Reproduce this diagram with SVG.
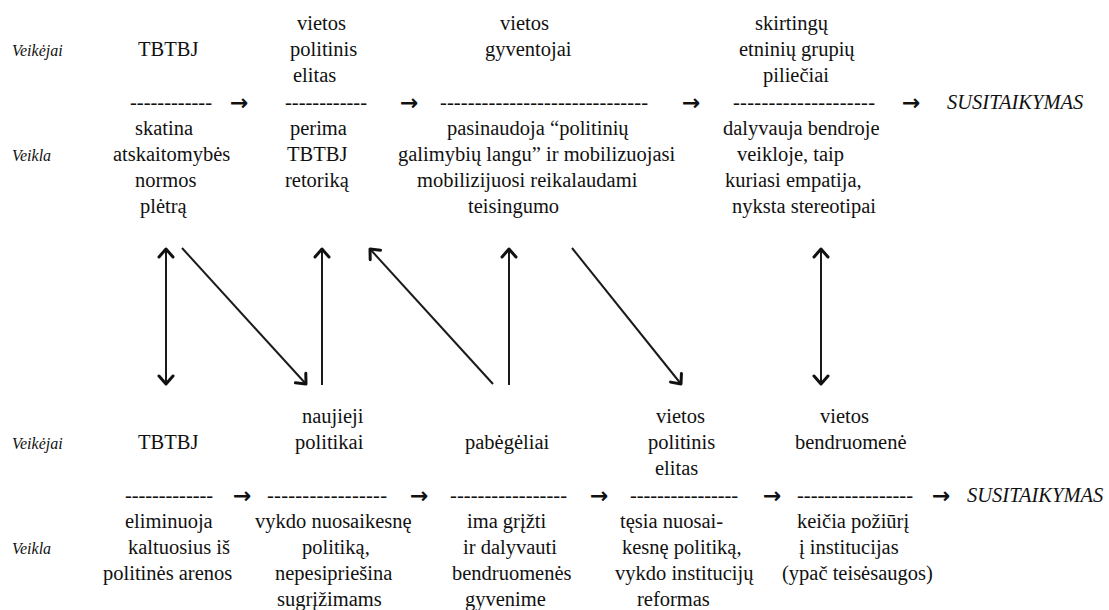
<svg xmlns="http://www.w3.org/2000/svg" width="1109" height="610" viewBox="0 0 1109 610">
<style>
text{font-family:'Liberation Serif','DejaVu Serif',serif;font-size:20.5px;fill:#111}
.lab{font-style:italic;font-size:16px}
.it{font-style:italic}
.arr{font-family:'DejaVu Sans',sans-serif;font-size:22px;font-weight:bold}
.c{stroke:#1a1a1a;stroke-width:2;fill:none}
</style>
<defs>
<marker id="h" markerUnits="userSpaceOnUse" viewBox="-12 -10 14 20" refX="0" refY="0" markerWidth="14" markerHeight="20" orient="auto-start-reverse">
<path d="M-8,-7 L0,0 L-8,7" fill="none" stroke="#111" stroke-width="3" stroke-linecap="round" stroke-linejoin="round"/>
</marker>
</defs>
<rect width="1109" height="610" fill="#fff"/>
<g id="labels" font-family="Liberation Serif, serif">
<text class="lab" x="12" y="56">Veikėjai</text>
<text class="lab" x="12" y="161">Veikla</text>
<text class="lab" x="12" y="449">Veikėjai</text>
<text class="lab" x="12" y="554">Veikla</text>
</g>
<g id="top1" font-family="Liberation Serif, serif">
<text x="138" y="56">TBTBJ</text>
<text x="130" y="108.6" textLength="82" lengthAdjust="spacing">------------</text>
<text x="135" y="134.8">skatina</text>
<text x="113" y="161">atskaitomybės</text>
<text x="135" y="187.2">normos</text>
<text x="140" y="213.4">plėtrą</text>
</g>
<g id="top2" font-family="Liberation Serif, serif">
<text x="297" y="30">vietos</text>
<text x="290" y="56.2">politinis</text>
<text x="293" y="82.4">elitas</text>
<text x="285" y="108.6" textLength="82" lengthAdjust="spacing">------------</text>
<text x="290" y="134.8">perima</text>
<text x="287" y="161">TBTBJ</text>
<text x="285" y="187.2">retoriką</text>
</g>
<g id="top3" font-family="Liberation Serif, serif">
<text x="500" y="30">vietos</text>
<text x="485" y="56.2">gyventojai</text>
<text x="440" y="108.6" textLength="208" lengthAdjust="spacing">------------------------------</text>
<text x="447" y="134.8">pasinaudoja “politinių</text>
<text x="398" y="161">galimybių langu” ir mobilizuojasi</text>
<text x="417" y="187.2">mobilizijuosi reikalaudami</text>
<text x="468" y="213.4">teisingumo</text>
</g>
<g id="top4" font-family="Liberation Serif, serif">
<text x="755" y="30">skirtingų</text>
<text x="739" y="56.2">etninių grupių</text>
<text x="763" y="82.4">piliečiai</text>
<text x="733" y="108.6" textLength="142" lengthAdjust="spacing">--------------------</text>
<text x="723" y="134.8">dalyvauja bendroje</text>
<text x="737" y="161">veikloje, taip</text>
<text x="725" y="187.2">kuriasi empatija,</text>
<text x="732" y="213.4">nyksta stereotipai</text>
</g>
<g id="top5" font-family="Liberation Serif, serif">
<text class="it" x="947" y="108.6">SUSITAIKYMAS</text>
</g>
<g id="bot1" font-family="Liberation Serif, serif">
<text x="138" y="449.2">TBTBJ</text>
<text x="125" y="501.6" textLength="88" lengthAdjust="spacing">-------------</text>
<text x="125" y="527.8">eliminuoja</text>
<text x="128" y="554">kaltuosius iš</text>
<text x="103" y="580.2">politinės arenos</text>
</g>
<g id="bot2" font-family="Liberation Serif, serif">
<text x="302" y="423">naujieji</text>
<text x="295" y="449.2">politikai</text>
<text x="267" y="501.6" textLength="120" lengthAdjust="spacing">-----------------</text>
<text x="255" y="527.8">vykdo nuosaikesnę</text>
<text x="302" y="554">politiką,</text>
<text x="275" y="580.2">nepesipriešina</text>
<text x="277" y="606.4">sugrįžimams</text>
</g>
<g id="bot3" font-family="Liberation Serif, serif">
<text x="465" y="449.2">pabėgėliai</text>
<text x="450" y="501.6" textLength="117" lengthAdjust="spacing">-----------------</text>
<text x="467" y="527.8">ima grįžti</text>
<text x="463" y="554">ir dalyvauti</text>
<text x="452" y="580.2">bendruomenės</text>
<text x="465" y="606.4">gyvenime</text>
</g>
<g id="bot4" font-family="Liberation Serif, serif">
<text x="656" y="423">vietos</text>
<text x="648" y="449.2">politinis</text>
<text x="655" y="475.4">elitas</text>
<text x="630" y="501.6" textLength="108" lengthAdjust="spacing">----------------</text>
<text x="620" y="527.8">tęsia nuosai-</text>
<text x="622" y="554">kesnę politiką,</text>
<text x="615" y="580.2">vykdo institucijų</text>
<text x="637" y="606.4">reformas</text>
</g>
<g id="bot5" font-family="Liberation Serif, serif">
<text x="820" y="423">vietos</text>
<text x="795" y="449.2">bendruomenė</text>
<text x="797" y="501.6" textLength="116" lengthAdjust="spacing">-----------------</text>
<text x="797" y="527.8">keičia požiūrį</text>
<text x="799" y="554">į institucijas</text>
<text x="782" y="580.2">(ypač teisėsaugos)</text>
</g>
<g id="bot6" font-family="Liberation Serif, serif">
<text class="it" x="967" y="501.6">SUSITAIKYMAS</text>
</g>
<g id="connectors">
<text class="arr" x="230" y="110">→</text>
<text class="arr" x="400" y="110">→</text>
<text class="arr" x="682" y="110">→</text>
<text class="arr" x="902" y="110">→</text>
<text class="arr" x="233" y="503">→</text>
<text class="arr" x="410" y="503">→</text>
<text class="arr" x="590" y="503">→</text>
<text class="arr" x="763" y="503">→</text>
<text class="arr" x="932" y="503">→</text>
<line class="c" x1="166" y1="249" x2="166" y2="384" marker-start="url(#h)" marker-end="url(#h)"/>
<line class="c" x1="182" y1="248" x2="306" y2="384" marker-end="url(#h)"/>
<line class="c" x1="322" y1="385" x2="322" y2="249" marker-end="url(#h)"/>
<line class="c" x1="493" y1="384" x2="370" y2="249" marker-end="url(#h)"/>
<line class="c" x1="509" y1="385" x2="509" y2="249" marker-end="url(#h)"/>
<line class="c" x1="572" y1="248" x2="681" y2="384" marker-end="url(#h)"/>
<line class="c" x1="821" y1="249" x2="821" y2="384" marker-start="url(#h)" marker-end="url(#h)"/>
</g>
</svg>
